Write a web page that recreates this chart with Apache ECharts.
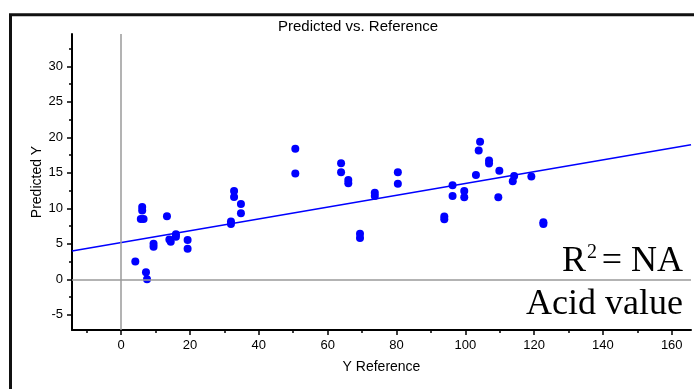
<!DOCTYPE html>
<html>
<head>
<meta charset="utf-8">
<script src="https://cdn.jsdelivr.net/npm/echarts@6/dist/echarts.min.js"></script>
<style>
  html, body { margin: 0; padding: 0; background: #fff; }
  #chart { width: 694px; height: 389px; }
</style>
</head>
<body>
<div id="chart"></div>
<script>
// Reference values (x) and model predictions (y) for each sample
const refX = [4.1, 6.1, 6.1, 5.7, 6.5, 7.2, 7.5, 9.4, 9.4, 13.3, 14.0, 14.4, 15.9, 15.9, 19.3, 19.3,
  31.9, 31.9, 32.8, 32.8, 34.8, 34.8, 50.6, 50.6, 63.9, 63.9, 66.0, 66.0, 69.4, 69.4, 73.7, 73.7,
  80.4, 80.4, 93.9, 93.9, 96.3, 96.3, 99.7, 99.7, 103.1, 103.9, 104.3, 106.9, 106.9, 109.6, 109.9,
  114.2, 113.8, 119.2, 122.7, 122.7];
const predY = [2.5, 10.2, 9.7, 8.5, 8.5, 1.0, 0.0, 5.0, 4.6, 8.9, 5.6, 5.3, 6.35, 6.0, 5.55, 4.3,
  8.15, 7.8, 12.45, 11.6, 10.6, 9.3, 18.4, 14.9, 16.35, 15.1, 14.0, 13.55, 6.4, 5.8, 12.2, 11.75,
  15.1, 13.45, 8.85, 8.45, 13.25, 11.75, 12.45, 11.55, 14.7, 18.15, 19.4, 16.75, 16.3, 11.55, 15.3,
  14.55, 13.8, 14.5, 8.05, 7.8];

// Fitted trend line end points
const fitX = [-14.3, 165.6];
const fitY = [4.0, 18.95];

// Axis ticks and labels
const xMajor = [0, 20, 40, 60, 80, 100, 120, 140, 160];
const xMinor = [-10, 10, 30, 50, 70, 90, 110, 130, 150];
const yMajor = [-5, 0, 5, 10, 15, 20, 25, 30];
const yMinor = [-2.5, 2.5, 7.5, 12.5, 17.5, 22.5, 27.5, 32.5];

const X_MIN = -14.3, X_MAX = 165.6;
const Y_MIN = -7.15, Y_MAX = 34.57;

const SANS = '"Liberation Sans", Arial, sans-serif';
const SERIF = '"Liberation Serif", "Times New Roman", serif';

const chart = echarts.init(document.getElementById('chart'));

const points = refX.map((x, i) => [x, predY[i]]);
const fitLine = fitX.map((x, i) => [x, fitY[i]]);

const labelStyle = { color: '#000', fontSize: 13, fontFamily: SANS, margin: 9 };
const tickStyle = { color: '#000', width: 1.5 };

chart.setOption({
  animation: false,
  backgroundColor: '#fff',
  title: {
    text: 'Predicted vs. Reference',
    left: 278,
    top: 19,
    padding: 0,
    textStyle: { fontSize: 15, fontWeight: 'normal', color: '#000', fontFamily: SANS }
  },
  grid: { left: 72, right: 3, top: 34, bottom: 59 },
  xAxis: [
    {
      type: 'value', position: 'bottom', min: X_MIN, max: X_MAX,
      name: 'Y Reference', nameLocation: 'middle', nameGap: 30, nameMoveOverlap: false,
      nameTextStyle: { color: '#000', fontSize: 14, fontFamily: SANS },
      axisLine: { show: true, onZero: false, lineStyle: { color: '#000', width: 2 } },
      splitLine: { show: false },
      axisTick: { show: true, length: 5, lineStyle: tickStyle, customValues: xMajor },
      axisLabel: Object.assign({}, labelStyle, { customValues: xMajor })
    },
    {
      type: 'value', position: 'bottom', min: X_MIN, max: X_MAX,
      axisLine: { show: false, onZero: false }, splitLine: { show: false },
      axisTick: { show: true, length: 3, lineStyle: tickStyle, customValues: xMinor },
      axisLabel: { show: false, customValues: xMinor }
    }
  ],
  yAxis: [
    {
      type: 'value', position: 'left', min: Y_MIN, max: Y_MAX,
      name: 'Predicted Y', nameLocation: 'middle', nameGap: 28, nameMoveOverlap: false,
      nameTextStyle: { color: '#000', fontSize: 14, fontFamily: SANS },
      axisLine: { show: true, onZero: false, lineStyle: { color: '#000', width: 2 } },
      splitLine: { show: false },
      axisTick: { show: true, length: 5, lineStyle: tickStyle, customValues: yMajor },
      axisLabel: Object.assign({}, labelStyle, { customValues: yMajor })
    },
    {
      type: 'value', position: 'left', min: Y_MIN, max: Y_MAX,
      axisLine: { show: false, onZero: false }, splitLine: { show: false },
      axisTick: { show: true, length: 3, lineStyle: tickStyle, customValues: yMinor },
      axisLabel: { show: false, customValues: yMinor }
    }
  ],
  series: [
    {
      type: 'line',
      data: fitLine,
      xAxisIndex: 0, yAxisIndex: 0,
      symbol: 'none',
      lineStyle: { color: '#0000ff', width: 1.5 },
      silent: true,
      markLine: {
        silent: true,
        symbol: 'none',
        label: { show: false },
        lineStyle: { color: '#9a9a9a', width: 1.5, type: 'solid' },
        data: [{ xAxis: 0 }, { yAxis: 0 }]
      }
    },
    {
      type: 'scatter',
      data: points,
      xAxisIndex: 0, yAxisIndex: 0,
      symbol: 'circle',
      symbolSize: 8,
      itemStyle: { color: '#0000ff', opacity: 1 }
    }
  ],
  graphic: [
    {
      type: 'polyline',
      shape: { points: [[10.5, 389], [10.5, 14.7], [694, 14.7]] },
      style: { stroke: '#111', lineWidth: 3, fill: null }
    },
    {
      type: 'text', x: 683, y: 262,
      style: { text: '= NA', font: '36px ' + SERIF, fill: '#000', align: 'right', verticalAlign: 'middle' }
    },
    {
      type: 'text', x: 597, y: 253,
      style: { text: '2', font: '20px ' + SERIF, fill: '#000', align: 'right', verticalAlign: 'middle' }
    },
    {
      type: 'text', x: 586, y: 262,
      style: { text: 'R', font: '36px ' + SERIF, fill: '#000', align: 'right', verticalAlign: 'middle' }
    },
    {
      type: 'text', x: 683, y: 305,
      style: { text: 'Acid value', font: '36px ' + SERIF, fill: '#000', align: 'right', verticalAlign: 'middle' }
    }
  ]
});
</script>
</body>
</html>
